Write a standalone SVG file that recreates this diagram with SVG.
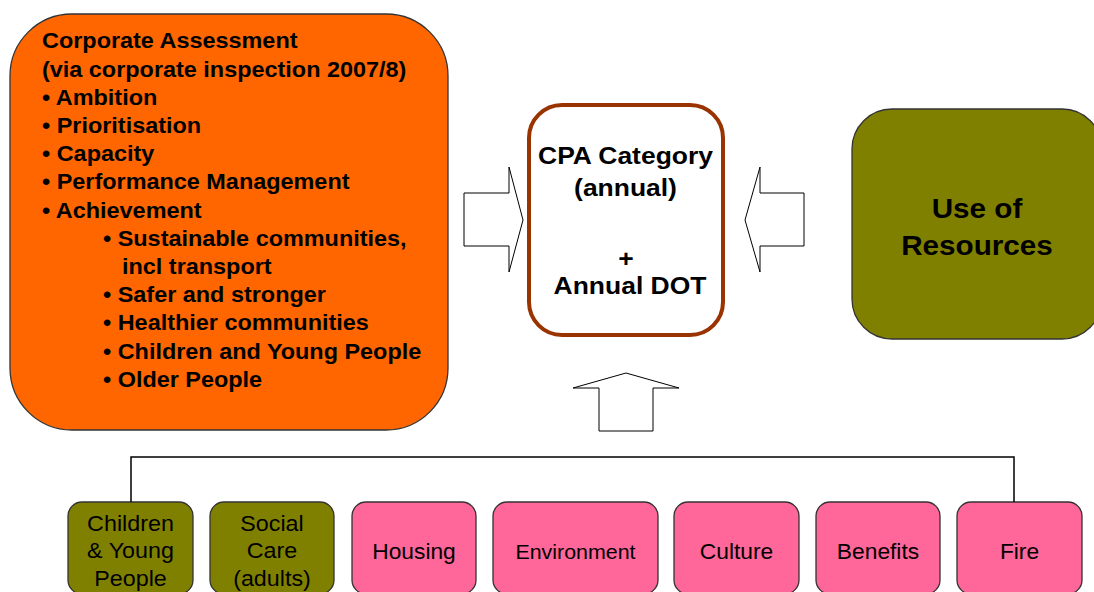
<svg xmlns="http://www.w3.org/2000/svg" width="1094" height="592" viewBox="0 0 1094 592">
  <style>
    .bold { font-family: "Liberation Sans", Arial, sans-serif; font-weight: bold; fill: #000; }
    .reg { font-family: "Liberation Sans", Arial, sans-serif; fill: #000; }
    .box { stroke: #333; stroke-width: 1.3; }
    .olive { fill: #808000; }
    .pink { fill: #FF6699; }
    .arrow { fill: #fff; stroke: #000; stroke-width: 1; }
    .link { fill: none; stroke: #000; stroke-width: 1.5; }
  </style>
  <rect width="1094" height="592" fill="#fff"/>

  <!-- Corporate assessment panel -->
  <g id="corporate-assessment">
    <rect class="box" x="10" y="14" width="438" height="416" rx="62" ry="62" fill="#FF6600"/>
    <g class="bold" font-size="21.5">
      <text transform="translate(42,48.3) scale(1.09,1)">Corporate Assessment</text>
      <text transform="translate(42,76.5) scale(1.09,1)">(via corporate inspection 2007/8)</text>
      <text transform="translate(42,104.7) scale(1.09,1)">• Ambition</text>
      <text transform="translate(42,132.9) scale(1.09,1)">• Prioritisation</text>
      <text transform="translate(42,161.1) scale(1.09,1)">• Capacity</text>
      <text transform="translate(42,189.3) scale(1.09,1)">• Performance Management</text>
      <text transform="translate(42,217.5) scale(1.09,1)">• Achievement</text>
      <text transform="translate(103,245.7) scale(1.09,1)">• Sustainable communities,</text>
      <text transform="translate(122,273.9) scale(1.09,1)">incl transport</text>
      <text transform="translate(103,302.1) scale(1.09,1)">• Safer and stronger</text>
      <text transform="translate(103,330.3) scale(1.09,1)">• Healthier communities</text>
      <text transform="translate(103,358.5) scale(1.09,1)">• Children and Young People</text>
      <text transform="translate(103,386.7) scale(1.09,1)">• Older People</text>
    </g>
  </g>

  <!-- Central rating box -->
  <g id="cpa-category">
    <rect x="529" y="105" width="194" height="230" rx="33" ry="33" fill="#fff" stroke="#993300" stroke-width="4"/>
    <g class="bold" font-size="24.5" text-anchor="middle">
      <text transform="translate(625.5,164.3) scale(1.08,1)">CPA Category</text>
      <text transform="translate(625.5,196) scale(1.08,1)">(annual)</text>
      <text transform="translate(626,267) scale(1.08,1)">+</text>
      <text transform="translate(630,294) scale(1.08,1)">Annual DOT</text>
    </g>
  </g>

  <!-- Use of resources -->
  <g id="use-of-resources">
    <rect class="box olive" x="852" y="109" width="250" height="230" rx="40" ry="40"/>
    <g class="bold" font-size="28" text-anchor="middle">
      <text transform="translate(977,218) scale(1.06,1)">Use of</text>
      <text transform="translate(977,255) scale(1.06,1)">Resources</text>
    </g>
  </g>

  <!-- Service blocks -->
  <g id="children-young-people">
    <rect class="box olive" x="68" y="502" width="125" height="92" rx="14" ry="14"/>
    <g class="reg" font-size="22" text-anchor="middle">
      <text transform="translate(130.5,530.7) scale(1.06,1)">Children</text>
      <text transform="translate(130.5,558.3) scale(1.06,1)">&amp; Young</text>
      <text transform="translate(130.5,585.7) scale(1.06,1)">People</text>
    </g>
  </g>
  <g id="social-care">
    <rect class="box olive" x="210" y="502" width="124" height="92" rx="14" ry="14"/>
    <g class="reg" font-size="22" text-anchor="middle">
      <text transform="translate(272,530.7) scale(1.06,1)">Social</text>
      <text transform="translate(272,558.3) scale(1.06,1)">Care</text>
      <text transform="translate(272,585.7) scale(1.06,1)">(adults)</text>
    </g>
  </g>
  <g id="housing">
    <rect class="box pink" x="352" y="502" width="124" height="92" rx="14" ry="14"/>
    <text class="reg" font-size="21.5" text-anchor="middle" transform="translate(414,559.3) scale(1.06,1)">Housing</text>
  </g>
  <g id="environment">
    <rect class="box pink" x="493" y="502" width="165" height="92" rx="14" ry="14"/>
    <text class="reg" font-size="20" text-anchor="middle" transform="translate(575.5,559.3) scale(1.07,1)">Environment</text>
  </g>
  <g id="culture">
    <rect class="box pink" x="674" y="502" width="125" height="92" rx="14" ry="14"/>
    <text class="reg" font-size="21.5" text-anchor="middle" transform="translate(736.5,559.3) scale(1.06,1)">Culture</text>
  </g>
  <g id="benefits">
    <rect class="box pink" x="816" y="502" width="124" height="92" rx="14" ry="14"/>
    <text class="reg" font-size="21.5" text-anchor="middle" transform="translate(878,559.3) scale(1.06,1)">Benefits</text>
  </g>
  <g id="fire">
    <rect class="box pink" x="957" y="502" width="125" height="92" rx="14" ry="14"/>
    <text class="reg" font-size="21.5" text-anchor="middle" transform="translate(1019.5,559.3) scale(1.06,1)">Fire</text>
  </g>

  <!-- Connectors: block arrows into the central box and the bracket over the services -->
  <g id="connectors">
    <polygon class="arrow" points="464,193 509,193 509,167 523,220 509,272 509,246 464,246"/>
    <polygon class="arrow" points="804,193 760,193 760,167 745,220 760,272 760,246 804,246"/>
    <polygon class="arrow" points="599,431 599,388 573,388 626,373 679,388 653,388 653,431"/>
    <polyline class="link" points="131,502 131,457 1014,457 1014,502"/>
  </g>
</svg>
